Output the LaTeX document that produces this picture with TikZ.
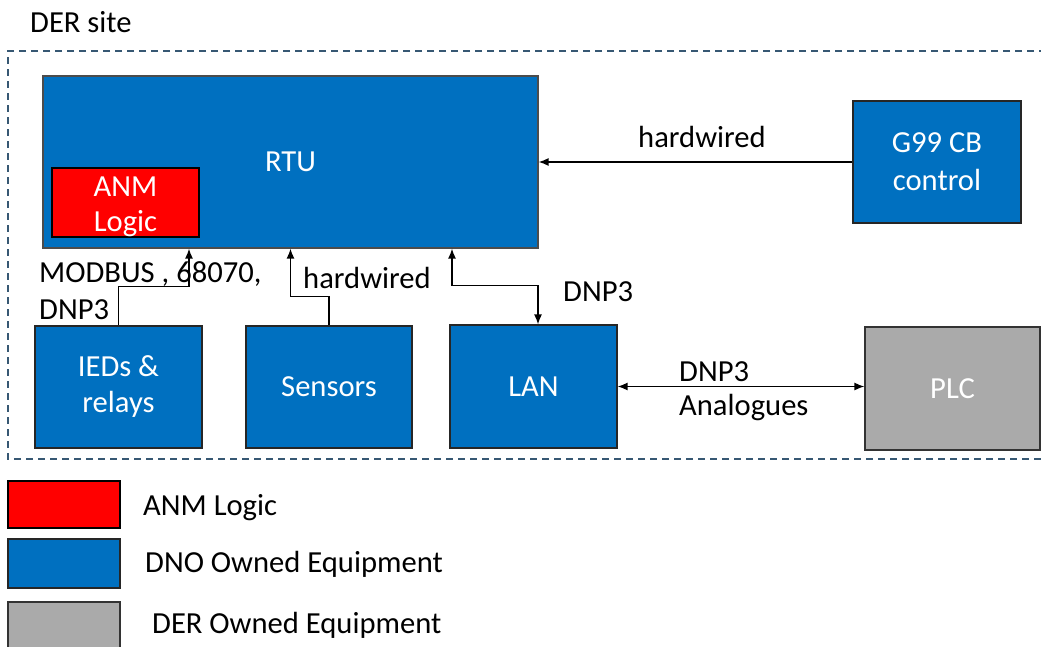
\documentclass[tikz,border=0pt]{standalone}
\usepackage{fontspec}
\setmainfont{Carlito}
\usepackage{tikz}
\usetikzlibrary{positioning,arrows.meta}

\definecolor{dnoblue}{RGB}{0,112,192}
\definecolor{anmred}{RGB}{255,0,0}
\definecolor{dergray}{RGB}{170,170,170}
\definecolor{siteline}{RGB}{55,88,115}

\begin{document}
\begin{tikzpicture}[x=1pt,y=-1pt,
    font=\fontsize{30.6}{36}\selectfont,
    dno/.style={draw=black!85,line width=1.2pt,fill=dnoblue,text=white,align=center,inner sep=0pt},
    anm/.style={draw=black,line width=1.2pt,fill=anmred,text=white,align=center,inner sep=0pt},
    der/.style={draw=black!80,line width=1.2pt,fill=dergray,text=white,align=center,inner sep=0pt},
    lbl/.style={anchor=base west,inner sep=0pt,align=left},
    flow/.style={line width=1.4pt,-{Latex[length=10pt,width=8pt]}},
    both/.style={line width=1.4pt,{Latex[length=10pt,width=8pt]}-{Latex[length=10pt,width=8pt]}},
    site/.style={draw=siteline,line width=1.4pt,dash pattern=on 7pt off 5pt}]
      \useasboundingbox (0,0) rectangle (1041,646);
      % site frame
      \node[lbl] (sitename) at (30,32) {DER site};
      \draw[site] (1046,51) -| (8,459) -- (1046,459);
      % equipment
      \node[dno,draw=black!70,minimum width=495pt,minimum height=172pt] (RTU) at (290.5,162) {RTU};
      \node[anm,minimum width=147pt,minimum height=69pt,font=\fontsize{30.6}{35}\selectfont] (ANM) at (125.5,202.5) {\rule{0pt}{28pt}ANM\\Logic};
      \node[dno,minimum width=168pt,minimum height=122pt,font=\fontsize{30.6}{38}\selectfont] (G99) at (937,162) {G99 CB\\control};
      \node[dno,minimum width=167pt,minimum height=122pt] (IEDs) at (118.5,387) {IEDs \&\\relays};
      \node[dno,minimum width=166pt,minimum height=122pt] (Sensors) at (329,387) {Sensors};
      \node[dno,minimum width=167pt,minimum height=123pt] (LAN) at (533.5,386.5) {LAN};
      \node[der,minimum width=175pt,minimum height=123pt] (PLC) at (952.5,388.5) {PLC};
      % links
      \draw[flow] (G99.west) -- (RTU.east);
      \draw[flow] (IEDs.north) -- ++(0,-39) -| ([xshift=-101.5pt]RTU.south);
      \draw[flow] (Sensors.north) -- ++(0,-29) -| (RTU.south);
      \draw[both] ([xshift=161.5pt]RTU.south) -- ++(0,37) -| ([xshift=4.5pt]LAN.north);
      \draw[both] (LAN.east) -- (LAN.east -| PLC.west);
      % link labels
      \node[lbl] (hw1) at (638,147) {hardwired};
      \node[lbl,font=\fontsize{30.6}{37}\selectfont] (modbus) at (39,319) {MODBUS , 68070,\\DNP3};
      \node[lbl] (hw2) at (303,288) {hardwired};
      \node[lbl] (dnp1) at (563,301) {DNP3};
      \node[lbl,font=\fontsize{30.6}{34}\selectfont] (dnp2) at (679,415) {DNP3\\Analogues};
      % legend
      \node[anm,minimum width=112pt,minimum height=47pt] (keyanm) at (64,504.5) {};
      \node[dno,minimum width=112pt,minimum height=49pt] (keydno) at (64,563.5) {};
      \node[der,minimum width=112pt,minimum height=50pt] (keyder) at (64,627) {};
      \node[lbl] (txtanm) at (143,515) {ANM Logic};
      \node[lbl] (txtdno) at (145,572) {DNO Owned Equipment};
      \node[lbl] (txtder) at (152,633) {DER Owned Equipment};
    \end{tikzpicture}
\end{document}
